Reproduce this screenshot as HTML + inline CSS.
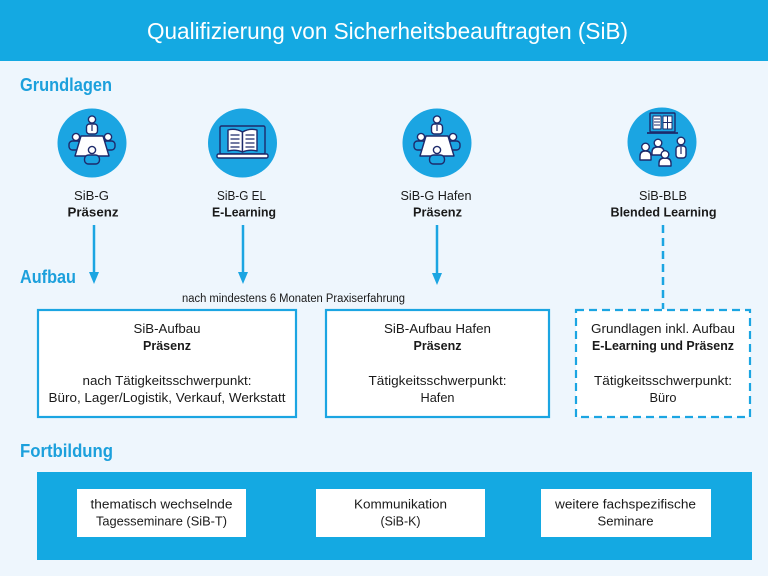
<!DOCTYPE html>
<html><head><meta charset="utf-8"><style>
html,body{margin:0;padding:0;background:#eef6fd;}
svg{display:block;}
text{font-family:"Liberation Sans",sans-serif;}
</style></head><body>
<svg width="768" height="576" viewBox="0 0 768 576" xmlns="http://www.w3.org/2000/svg">
<defs>
<g id="meet">
  <circle r="34.5" fill="#1ba5e2"/>
  <g stroke="#1d2a6b" stroke-width="1.4" stroke-linejoin="round">
    <rect x="-23" y="-2" width="12" height="9" rx="3.5" fill="#1ba5e2"/>
    <rect x="11" y="-2" width="12" height="9" rx="3.5" fill="#1ba5e2"/>
    <rect x="-5.5" y="-19" width="11" height="10" rx="3" fill="#fff"/>
    <path d="M0,-18 L0,-12" stroke-width="1.2"/>
    <polygon points="-11,-7 11,-7 17,13 -17,13" fill="#fff"/>
    <rect x="-7.5" y="12" width="15" height="9" rx="4" fill="#1ba5e2"/>
    <circle cx="0" cy="-23.5" r="3.6" fill="#fff"/>
    <circle cx="-16" cy="-6" r="3.6" fill="#fff"/>
    <circle cx="16" cy="-6" r="3.6" fill="#fff"/>
    <circle cx="0" cy="7" r="3.6" fill="#fff"/>
  </g>
</g>
</defs>

<!-- header -->
<rect x="0" y="0" width="768" height="61" fill="#14a9e2"/>
<text x="387.5" y="39" font-size="23" fill="#fff" text-anchor="middle" textLength="481" lengthAdjust="spacingAndGlyphs">Qualifizierung von Sicherheitsbeauftragten (SiB)</text>

<!-- section headings -->
<g fill="#1ca0dc" font-size="18" font-weight="bold">
<text x="20" y="91" textLength="92" lengthAdjust="spacingAndGlyphs">Grundlagen</text>
<text x="20" y="283" textLength="56" lengthAdjust="spacingAndGlyphs">Aufbau</text>
<text x="20" y="457" textLength="93" lengthAdjust="spacingAndGlyphs">Fortbildung</text>
</g>

<!-- icons -->
<use href="#meet" x="92" y="143"/>
<use href="#meet" x="437" y="143"/>

<!-- e-learning icon -->
<g transform="translate(242.5,143)">
  <circle r="34.5" fill="#1ba5e2"/>
  <g stroke="#1d2a6b" stroke-width="1.4" stroke-linejoin="round">
    <rect x="-22.5" y="-17" width="45" height="28" rx="1.5" fill="#1ba5e2"/>
    <rect x="-25.5" y="11" width="51" height="4" rx="1.5" fill="#fff"/>
    <path d="M0,-11 Q-7,-15 -14.5,-13 L-14.5,8 Q-7,6 0,9 Z" fill="#fff"/>
    <path d="M0,-11 Q7,-15 14.5,-13 L14.5,8 Q7,6 0,9 Z" fill="#fff"/>
    <path d="M-12,-8 H-3 M-12,-4 H-3 M-12,0 H-3 M-12,4 H-3 M3,-8 H12 M3,-4 H12 M3,0 H12 M3,4 H12" stroke-width="1.2" fill="none"/>
  </g>
</g>

<!-- blended learning icon -->
<g transform="translate(662,142)">
  <circle r="34.5" fill="#1ba5e2"/>
  <g stroke="#1d2a6b" stroke-width="1.4" stroke-linejoin="round">
    <rect x="-12" y="-29" width="25" height="19" rx="1" fill="#1ba5e2"/>
    <path d="M-15,-9 H16" stroke-width="1.8"/>
    <rect x="-9" y="-26" width="8" height="13" fill="#fff" stroke-width="1"/>
    <path d="M-8,-23 H-2 M-8,-20 H-2 M-8,-17 H-2" stroke-width="0.9"/>
    <rect x="1" y="-26" width="9" height="13" fill="#fff" stroke-width="1"/>
    <path d="M5.5,-26 V-13 M1,-19.5 H10" stroke-width="1"/>
    <path d="M-22,18 V14 Q-22,9 -16.5,9 Q-11,9 -11,14 V18 Z" fill="#fff"/>
    <circle cx="-16.5" cy="5" r="3.8" fill="#fff"/>
    <path d="M-10,13 V10 Q-10,5 -4,5 Q2,5 2,10 V13 Z" fill="#fff"/>
    <circle cx="-4" cy="1" r="3.8" fill="#fff"/>
    <path d="M-3,24 V21 Q-3,16 3,16 Q9,16 9,21 V24 Z" fill="#fff"/>
    <circle cx="3" cy="12.5" r="3.8" fill="#fff"/>
    <rect x="14" y="4" width="10" height="12" rx="3" fill="#fff"/>
    <path d="M19,5 V12" stroke-width="1.2"/>
    <circle cx="19" cy="-1" r="3.8" fill="#fff"/>
  </g>
</g>

<!-- labels under icons -->
<g font-size="13" fill="#1a1a1a" text-anchor="middle">
<text x="91.5" y="200" textLength="35" lengthAdjust="spacingAndGlyphs">SiB-G</text>
<text x="93" y="216.5" font-weight="bold" textLength="51" lengthAdjust="spacingAndGlyphs">Präsenz</text>
<text x="241.5" y="200" textLength="49" lengthAdjust="spacingAndGlyphs">SiB-G EL</text>
<text x="244" y="216.5" font-weight="bold" textLength="64" lengthAdjust="spacingAndGlyphs">E-Learning</text>
<text x="436" y="200" textLength="71" lengthAdjust="spacingAndGlyphs">SiB-G Hafen</text>
<text x="437.5" y="216.5" font-weight="bold" textLength="49" lengthAdjust="spacingAndGlyphs">Präsenz</text>
<text x="663" y="200" textLength="48" lengthAdjust="spacingAndGlyphs">SiB-BLB</text>
<text x="663.5" y="216.5" font-weight="bold" textLength="106" lengthAdjust="spacingAndGlyphs">Blended Learning</text>
</g>

<!-- arrows -->
<g stroke="#1ba5e2" stroke-width="2.5" fill="none">
<line x1="94" y1="225" x2="94" y2="274"/>
<line x1="243" y1="225" x2="243" y2="274"/>
<line x1="437" y1="225" x2="437" y2="275"/>
<line x1="663" y1="225" x2="663" y2="309" stroke-dasharray="8 5"/>
</g>
<g fill="#1ba5e2">
<polygon points="89,272 99,272 94,284"/>
<polygon points="238,272 248,272 243,284"/>
<polygon points="432,273 442,273 437,285"/>
</g>

<text x="293.5" y="302" font-size="11.5" fill="#1a1a1a" text-anchor="middle" textLength="223" lengthAdjust="spacingAndGlyphs">nach mindestens 6 Monaten Praxiserfahrung</text>

<!-- Aufbau boxes -->
<rect x="38" y="310" width="258" height="107" fill="#fff" stroke="#1ba5e2" stroke-width="2.2"/>
<rect x="326" y="310" width="223" height="107" fill="#fff" stroke="#1ba5e2" stroke-width="2.2"/>
<rect x="576" y="310" width="174" height="107" fill="#fff" stroke="#1ba5e2" stroke-width="2.2" stroke-dasharray="8 5"/>

<g font-size="13" fill="#1a1a1a" text-anchor="middle">
<text x="167" y="333" textLength="67" lengthAdjust="spacingAndGlyphs">SiB-Aufbau</text>
<text x="167" y="350" font-weight="bold" textLength="48" lengthAdjust="spacingAndGlyphs">Präsenz</text>
<text x="167" y="385" textLength="169" lengthAdjust="spacingAndGlyphs">nach Tätigkeitsschwerpunkt:</text>
<text x="167" y="402" textLength="237" lengthAdjust="spacingAndGlyphs">Büro, Lager/Logistik, Verkauf, Werkstatt</text>

<text x="437.5" y="333" textLength="107" lengthAdjust="spacingAndGlyphs">SiB-Aufbau Hafen</text>
<text x="437.5" y="350" font-weight="bold" textLength="48" lengthAdjust="spacingAndGlyphs">Präsenz</text>
<text x="437.5" y="385" textLength="138" lengthAdjust="spacingAndGlyphs">Tätigkeitsschwerpunkt:</text>
<text x="437.5" y="402" textLength="34" lengthAdjust="spacingAndGlyphs">Hafen</text>

<text x="663" y="333" textLength="144" lengthAdjust="spacingAndGlyphs">Grundlagen inkl. Aufbau</text>
<text x="663" y="350" font-weight="bold" textLength="142" lengthAdjust="spacingAndGlyphs">E-Learning und Präsenz</text>
<text x="663" y="385" textLength="138" lengthAdjust="spacingAndGlyphs">Tätigkeitsschwerpunkt:</text>
<text x="663" y="402" textLength="27" lengthAdjust="spacingAndGlyphs">Büro</text>
</g>

<!-- Fortbildung -->
<rect x="37" y="472" width="715" height="88" fill="#14a9e2"/>
<rect x="77" y="489" width="169" height="48" fill="#fff"/>
<rect x="316" y="489" width="169" height="48" fill="#fff"/>
<rect x="541" y="489" width="170" height="48" fill="#fff"/>
<g font-size="13" fill="#1a1a1a" text-anchor="middle">
<text x="161.5" y="508.5" textLength="142" lengthAdjust="spacingAndGlyphs">thematisch wechselnde</text>
<text x="161.5" y="525.5" textLength="131" lengthAdjust="spacingAndGlyphs">Tagesseminare (SiB-T)</text>
<text x="400.5" y="508.5" textLength="93" lengthAdjust="spacingAndGlyphs">Kommunikation</text>
<text x="400.5" y="525.5" textLength="40" lengthAdjust="spacingAndGlyphs">(SiB-K)</text>
<text x="625.5" y="508.5" textLength="141" lengthAdjust="spacingAndGlyphs">weitere fachspezifische</text>
<text x="625.5" y="525.5" textLength="56" lengthAdjust="spacingAndGlyphs">Seminare</text>
</g>
</svg>
</body></html>
